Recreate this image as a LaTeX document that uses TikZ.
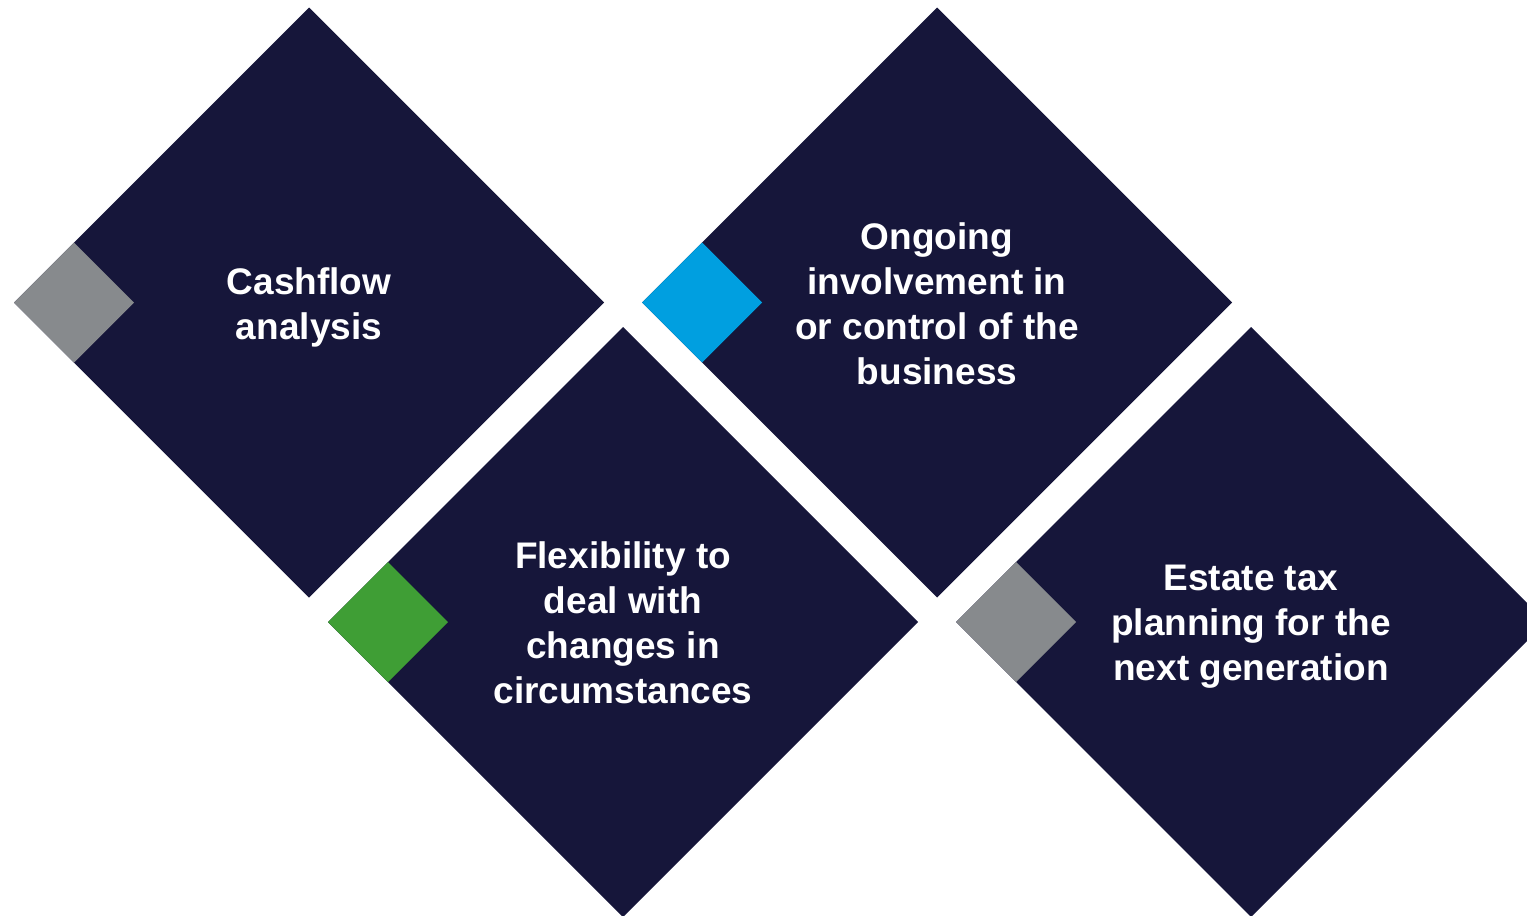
\documentclass[tikz,border=0pt]{standalone}
\usepackage{fontspec}
\setmainfont{Liberation Sans}
\usetikzlibrary{calc}
\definecolor{navy}{HTML}{16163A}
\definecolor{slate}{HTML}{878A8D}
\definecolor{sky}{HTML}{009FE0}
\definecolor{leaf}{HTML}{3F9E35}
\begin{document}
\begin{tikzpicture}[x=0.5pt,y=-0.5pt,
  bigtile/.style={fill=navy},
  label/.style={text=white,font=\fontsize{18.5pt}{22.5pt}\selectfont\bfseries,align=center,inner sep=0pt},
]
\useasboundingbox (0,0) rectangle (1527,916);
\clip (0,0) rectangle (1527,916);
% big tiles: centre and half-diagonal of 295
\foreach \n/\cx/\cy in {a/309/302.5, b/623/622, c/937/302.5, d/1251/622}{
  \coordinate (\n) at (\cx,\cy);
  \fill[bigtile] ($(\n)+(0,-295)$) -- ($(\n)+(295,0)$) -- ($(\n)+(0,295)$) -- ($(\n)+(-295,0)$) -- cycle;
}
% small accent tiles on the left corners
\foreach \n/\col in {a/slate, b/leaf, c/sky, d/slate}{
  \coordinate (\n s) at ($(\n)+(-235,0)$);
  \fill[\col] ($(\n s)+(0,-60)$) -- ($(\n s)+(60,0)$) -- ($(\n s)+(0,60)$) -- ($(\n s)+(-60,0)$) -- cycle;
}
\node[label] (ta) at ($(a)+(0,5)$) {Cashflow\\analysis};
\node[label] (tc) at ($(c)+(0,1.5)$) {Ongoing\\involvement in\\or control of the\\business};
\node[label] (tb) at ($(b)+(0,1)$) {Flexibility to\\deal with\\changes in\\circumstances};
\node[label] (td) at ($(d)+(0,5)$) {Estate tax\\planning for the\\next generation};
\end{tikzpicture}
\end{document}
